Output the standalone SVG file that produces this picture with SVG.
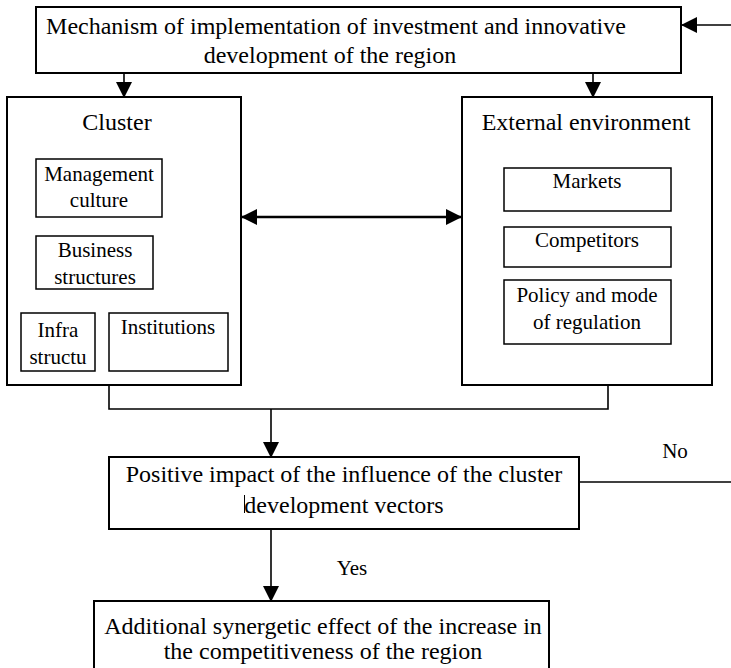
<svg xmlns="http://www.w3.org/2000/svg" width="731" height="668" viewBox="0 0 731 668">
<style>
  .box{fill:#fff;stroke:#000;stroke-width:2}
  .ibox{fill:#fff;stroke:#000;stroke-width:1.5}
  .t{font-family:"Liberation Serif","Times New Roman",serif;fill:#000;text-anchor:middle}
  .big{font-size:24px}
  .mid{font-size:21px}
  .ln{fill:none;stroke:#000;stroke-width:1.6}
</style>
<defs>
  <marker id="ah" markerUnits="userSpaceOnUse" markerWidth="16" markerHeight="16" viewBox="0 0 16 16" refX="15" refY="8" orient="auto-start-reverse">
    <path d="M0,0 L16,8 L0,16 Z" fill="#000"/>
  </marker>
  <marker id="ahs" markerUnits="userSpaceOnUse" markerWidth="14" markerHeight="14" viewBox="0 0 14 14" refX="13" refY="7" orient="auto-start-reverse">
    <path d="M0,0 L14,7 L0,14 Z" fill="#000"/>
  </marker>
</defs>
<rect width="731" height="668" fill="#fff"/>

<g id="connectors">
  <path class="ln" d="M731,25 H682" marker-end="url(#ah)"/>
  <path class="ln" d="M124,73 V97" marker-end="url(#ah)"/>
  <path class="ln" d="M593,73 V97" marker-end="url(#ah)"/>
  <path class="ln" d="M242,217 H461" style="stroke-width:2.6" marker-start="url(#ah)" marker-end="url(#ah)"/>
  <path class="ln" d="M96,236 V217" marker-end="url(#ahs)"/>
  <path class="ln" d="M66,289 V313" marker-end="url(#ahs)"/>
  <path class="ln" d="M139,289 V313" marker-end="url(#ahs)"/>
  <path class="ln" d="M109,385 V409 H608 V385"/>
  <path class="ln" d="M271,409 V457" marker-end="url(#ah)"/>
  <path class="ln" d="M579,482 H731"/>
  <path class="ln" d="M271,529 V601" marker-end="url(#ah)"/>
  <text class="t mid" x="675" y="458">No</text>
  <text class="t mid" x="352" y="575">Yes</text>
</g>

<g id="mechanism">
  <rect class="box" x="36" y="7" width="645" height="66"/>
  <text class="t big" x="336" y="34">Mechanism of implementation of investment and innovative</text>
  <text class="t big" x="330" y="63">development of the region</text>
</g>

<g id="cluster">
  <rect class="box" x="7" y="97" width="234" height="288"/>
  <text class="t big" x="117" y="130">Cluster</text>
</g>
<g id="management">
  <rect class="ibox" x="36" y="159" width="126" height="58"/>
  <text class="t mid" x="99" y="181">Management</text>
  <text class="t mid" x="99" y="207">culture</text>
</g>
<g id="business">
  <rect class="ibox" x="36" y="236" width="117" height="53"/>
  <text class="t mid" x="95" y="257">Business</text>
  <text class="t mid" x="95" y="284">structures</text>
</g>
<g id="infra">
  <rect class="ibox" x="21" y="313" width="74" height="58"/>
  <text class="t mid" x="58" y="337">Infra</text>
  <text class="t mid" x="58" y="364">structu</text>
</g>
<g id="institutions">
  <rect class="ibox" x="109" y="313" width="119" height="58"/>
  <text class="t mid" x="168" y="334">Institutions</text>
</g>

<g id="external">
  <rect class="box" x="462" y="97" width="250" height="288"/>
  <text class="t big" x="586" y="130">External environment</text>
</g>
<g id="markets">
  <rect class="ibox" x="504" y="168" width="167" height="43"/>
  <text class="t mid" x="587" y="188">Markets</text>
</g>
<g id="competitors">
  <rect class="ibox" x="504" y="227" width="167" height="40"/>
  <text class="t mid" x="587" y="247">Competitors</text>
</g>
<g id="policy">
  <rect class="ibox" x="504" y="280" width="167" height="64"/>
  <text class="t mid" x="587" y="302">Policy and mode</text>
  <text class="t mid" x="587" y="329">of regulation</text>
</g>

<g id="positive">
  <rect class="box" x="109" y="457" width="470" height="72"/>
  <text class="t big" x="344" y="482">Positive impact of the influence of the cluster</text>
  <text class="t big" x="344" y="513">development vectors</text>
  <line x1="244.5" y1="495" x2="244.5" y2="513" stroke="#000" stroke-width="1"/>
</g>

<g id="additional">
  <rect class="box" x="94" y="601" width="455" height="80"/>
  <text class="t big" x="323" y="634">Additional synergetic effect of the increase in</text>
  <text class="t big" x="323" y="659">the competitiveness of the region</text>
</g>
</svg>
